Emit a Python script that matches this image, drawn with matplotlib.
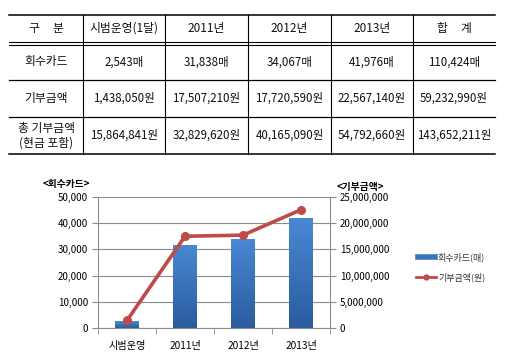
import numpy as np
import matplotlib
matplotlib.use("Agg")
import matplotlib.pyplot as plt
from matplotlib.lines import Line2D
from matplotlib.colors import LinearSegmentedColormap

plt.rcParams['font.family'] = ['Noto Sans CJK KR', 'DejaVu Sans']

#--- DATA ---#
header = ["구     분", "시범운영(1달)", "2011년", "2012년", "2013년", "합     계"]
row_names = ["회수카드", "기부금액", "총 기부금액\n(현금 포함)"]
cards_txt = ["2,543매", "31,838매", "34,067매", "41,976매", "110,424매"]
donation_txt = ["1,438,050원", "17,507,210원", "17,720,590원", "22,567,140원", "59,232,990원"]
total_txt = ["15,864,841원", "32,829,620원", "40,165,090원", "54,792,660원", "143,652,211원"]

categories = ["시범운영", "2011년", "2012년", "2013년"]
cards = [2543, 31838, 34067, 41976]
donation = [1438050, 17507210, 17720590, 22567140]

W, H = 511, 359
fig = plt.figure(figsize=(W/100, H/100), dpi=100)

def fx(x):
    return x / W

def fy(y):
    return 1 - y / H

#--- TABLE ---#
col_edges = [9, 83, 165, 248, 331, 413, 495]

def hline(y, lw=0.9):
    fig.add_artist(Line2D([fx(col_edges[0]), fx(col_edges[-1])], [fy(y), fy(y)],
                          color="black", lw=lw, transform=fig.transFigure))

hline(15, 1.1)
hline(41.5, 0.8)
hline(44.5, 0.8)
hline(80)
hline(117)
hline(154, 1.1)
for x in col_edges[1:-1]:
    fig.add_artist(Line2D([fx(x), fx(x)], [fy(15), fy(154)], color="black", lw=0.8,
                          transform=fig.transFigure))

rows = [header, [row_names[0]] + cards_txt, [row_names[1]] + donation_txt,
        [row_names[2]] + total_txt]
ycent = [28.5, 62, 98.5, 135.5]
for r, row in enumerate(rows):
    for c, txt in enumerate(row):
        xc = (col_edges[c] + col_edges[c + 1]) / 2
        fs = 8.5 if c == 0 or r == 0 else 8.3
        fig.text(fx(xc), fy(ycent[r]), txt, ha="center", va="center", fontsize=fs,
                 linespacing=1.15, color="#111111")

#--- CHART ---#
ax = fig.add_axes([fx(98), fy(328), fx(330 - 98), (328 - 197) / H])
x = np.arange(len(categories))
bars = ax.bar(x, cards, width=0.4, color="#3A74C0", zorder=2)

cmap = LinearSegmentedColormap.from_list("blu", ["#2A5C9E", "#4A88D4"])
grad = np.linspace(0, 1, 100).reshape(-1, 1)
for b in bars:
    bx, by = b.get_x(), b.get_y()
    bw, bh = b.get_width(), b.get_height()
    im = ax.imshow(grad, cmap=cmap, aspect="auto", origin="lower",
                   extent=[bx, bx + bw, by, by + bh], zorder=3)
    im.set_clip_path(b)

ax.set_xlim(-0.5, len(categories) - 0.5)
ax.set_ylim(0, 50000)
ax.set_yticks(np.arange(0, 50001, 10000))
ax.set_yticklabels([f"{v:,}" for v in range(0, 50001, 10000)], fontsize=7)
ax.yaxis.grid(True, color="#8C8C8C", lw=0.8, zorder=0)
ax.set_axisbelow(True)
ax.set_xticks(x)
ax.set_xticklabels(categories, fontsize=7.3)
ax.set_xticks(np.arange(-0.5, len(categories)), minor=True)
ax.tick_params(axis="x", which="major", length=0, pad=9)
ax.tick_params(axis="x", which="minor", length=4, color="#8C8C8C")
ax.tick_params(axis="y", length=4, color="#8C8C8C", pad=3)
for s in ["top", "right"]:
    ax.spines[s].set_visible(False)
ax.spines["left"].set_color("#8C8C8C")
ax.spines["bottom"].set_color("#8C8C8C")

ax2 = ax.twinx()
ax2.plot(x, donation, color="#BE4B48", lw=2.6, marker="o", markersize=5.5, zorder=5)
ax2.set_ylim(0, 25000000)
ax2.set_yticks(np.arange(0, 25000001, 5000000))
ax2.set_yticklabels([f"{v:,}" for v in range(0, 25000001, 5000000)], fontsize=7)
ax2.tick_params(axis="y", length=4, color="#8C8C8C", pad=3)
for s in ["top", "left", "bottom"]:
    ax2.spines[s].set_visible(False)
ax2.spines["right"].set_color("#8C8C8C")

fig.text(fx(43), fy(184), "<회수카드>", fontsize=7, fontweight="bold", va="center")
fig.text(fx(337), fy(187), "<기부금액>", fontsize=7, fontweight="bold", va="center")

# legend
fig.add_artist(Line2D([fx(418), fx(435)], [fy(257), fy(257)], color="#3A74C0", lw=4,
                      transform=fig.transFigure))
fig.text(fx(438), fy(257), "회수카드(매)", fontsize=6.5, va="center", color="#333333")
fig.add_artist(Line2D([fx(416), fx(436)], [fy(277), fy(277)], color="#BE4B48", lw=2,
                      transform=fig.transFigure))
fig.add_artist(Line2D([fx(426)], [fy(277)], color="#BE4B48", marker="o", markersize=3.5,
                      transform=fig.transFigure))
fig.text(fx(438), fy(277), "기부금액(원)", fontsize=6.5, va="center", color="#333333")

plt.savefig("out.png", dpi=100)
